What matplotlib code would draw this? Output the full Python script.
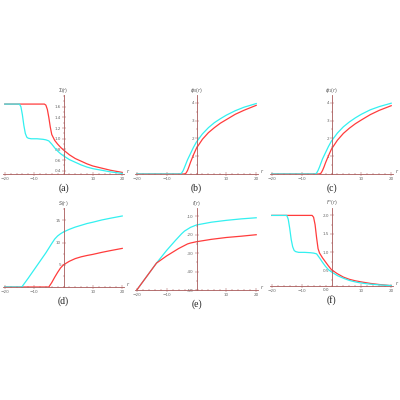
import numpy as np
import matplotlib
matplotlib.use("Agg")
import matplotlib.pyplot as plt
from matplotlib.ticker import MultipleLocator

# panel (a)
a_red_x = [-20, -6.5, -6, -5.5, -5, -4.5, -4, -3, -2, -1, 0, 2, 4, 6, 8, 10, 13, 16, 20]
a_red_y = [1.65, 1.65, 1.63, 1.55, 1.4, 1.22, 1.08, 0.97, 0.9, 0.84, 0.79, 0.7, 0.63, 0.58, 0.53, 0.49, 0.45, 0.41, 0.37]
a_cyan_x = [-20, -15, -14.5, -14, -13.5, -13, -12.5, -12, -11, -9, -7, -6, -5, -4, -3, -2, -1, 0, 2, 4, 6, 8, 10, 13, 16, 20]
a_cyan_y = [1.65, 1.65, 1.6, 1.45, 1.25, 1.1, 1.03, 1.01, 1.0, 1.0, 0.99, 0.98, 0.96, 0.9, 0.83, 0.77, 0.72, 0.68, 0.61, 0.56, 0.51, 0.47, 0.44, 0.41, 0.38, 0.35]

# panel (b)
b_cyan_x = [-20, -5.5, -5, -4.5, -4, -3, -2, -1, 0, 2, 4, 6, 8, 10, 13, 16, 20]
b_cyan_y = [0, 0, 0.05, 0.18, 0.38, 0.8, 1.15, 1.5, 1.8, 2.25, 2.6, 2.88, 3.1, 3.3, 3.55, 3.75, 3.95]
b_red_x = [-20, -4, -3.5, -3, -2.5, -2, -1, 0, 2, 4, 6, 8, 10, 13, 16, 20]
b_red_y = [0, 0, 0.05, 0.2, 0.42, 0.66, 1.08, 1.45, 1.95, 2.32, 2.6, 2.85, 3.05, 3.35, 3.58, 3.85]

# panel (c)
c_cyan_x = [-20, -5.5, -5, -4.5, -4, -3, -2, -1, 0, 2, 4, 6, 8, 10, 13, 16, 20]
c_cyan_y = [0, 0, 0.05, 0.2, 0.4, 0.85, 1.2, 1.55, 1.85, 2.3, 2.65, 2.92, 3.15, 3.35, 3.6, 3.78, 3.97]
c_red_x = [-20, -4, -3.5, -3, -2.5, -2, -1, 0, 2, 4, 6, 8, 10, 13, 16, 20]
c_red_y = [0, 0, 0.05, 0.2, 0.4, 0.63, 1.03, 1.4, 1.9, 2.28, 2.57, 2.82, 3.03, 3.33, 3.57, 3.83]

# panel (d)
d_cyan_x = [-20, -14.2, -12, -10, -8, -6, -4, -3, -2, -1, 0, 2, 4, 6, 8, 10, 13, 16, 20]
d_cyan_y = [0, 0, 2.0, 3.9, 5.8, 7.7, 9.8, 10.8, 11.5, 12.0, 12.4, 13.0, 13.5, 13.9, 14.3, 14.6, 15.1, 15.5, 16.0]
d_red_x = [-20, -5, -4, -3, -2, -1, 0, 2, 4, 6, 8, 10, 13, 16, 20]
d_red_y = [0, 0, 1.0, 2.2, 3.3, 4.3, 5.0, 5.8, 6.4, 6.8, 7.1, 7.35, 7.8, 8.2, 8.7]

# panel (e)
e_red_x = [-20, -13.4, -10, -6, -3, -2, 0, 5, 10, 15, 20]
e_red_y = [-50, -35.4, -31.5, -27.5, -25, -24.5, -23.8, -22.5, -21.5, -20.8, -20]
e_cyan_x = [-20, -13.4, -10, -7, -5, -4, -2, 0, 5, 10, 15, 20]
e_cyan_y = [-50, -35.4, -28.5, -23, -19.5, -18, -16, -14.7, -13.2, -12.2, -11.4, -10.8]

# panel (f)
f_red_x = [-20, -6.5, -6, -5.5, -5, -4.5, -4, -3, -2, -1, 0, 2, 4, 6, 8, 10, 13, 16, 20]
f_red_y = [2.0, 2.0, 1.95, 1.75, 1.4, 1.1, 0.98, 0.85, 0.74, 0.63, 0.53, 0.42, 0.33, 0.27, 0.23, 0.2, 0.16, 0.13, 0.1]
f_cyan_x = [-20, -15, -14.5, -14, -13.5, -13, -12.5, -12, -11, -9, -7, -6, -5, -4, -3, -2, -1, 0, 2, 4, 6, 8, 10, 13, 16, 20]
f_cyan_y = [2.0, 2.0, 1.9, 1.65, 1.35, 1.15, 1.05, 1.02, 1.0, 1.0, 0.99, 0.98, 0.96, 0.85, 0.73, 0.62, 0.53, 0.47, 0.37, 0.3, 0.24, 0.2, 0.17, 0.14, 0.12, 0.1]

AXC = '#a85a5a'
RED = '#ff3c3c'
CYAN = '#33f0f0'
W = H = 400


def panel(left, right, top, bottom, ylim, yticks, ylabel, caption,
          red, cyan, ymajor, yminor, cyan_first=False):
    ax = fig.add_axes([left / W, 1 - bottom / H, (right - left) / W, (bottom - top) / H])
    if cyan_first:
        ax.plot(*cyan, color=CYAN, lw=0.9)
        ax.plot(*red, color=RED, lw=0.9)
    else:
        ax.plot(*red, color=RED, lw=0.9)
        ax.plot(*cyan, color=CYAN, lw=0.9)
    ax.set_xlim(-20.6, 20.6)
    ax.set_ylim(*ylim)
    for s in ['top', 'right']:
        ax.spines[s].set_visible(False)
    ax.spines['left'].set_position(('data', 0))
    for s in ['left', 'bottom']:
        ax.spines[s].set_color(AXC)
        ax.spines[s].set_linewidth(0.6)
    ax.set_xticks([-20, -10, 10, 20])
    ax.xaxis.set_minor_locator(MultipleLocator(2))
    ax.set_yticks(yticks)
    ax.yaxis.set_minor_locator(MultipleLocator(yminor))
    ax.set_yticklabels(ymajor)
    ax.tick_params(which='both', direction='inout', colors=AXC, labelcolor='#666666',
                   labelsize=3, width=0.35, pad=0.8)
    ax.tick_params(which='major', length=2.2)
    ax.tick_params(which='minor', length=1.0)
    ax.set_facecolor('none')
    ax.text(0, 1.0, ylabel, transform=ax.get_xaxis_transform(), ha='center', va='bottom',
            fontsize=3.5, color='#555555')
    ax.text(21.5, ylim[0], 'r', ha='left', va='bottom', fontsize=3.5, color='#555555', style='italic')
    ax.annotate(caption, xy=(0, 0), xycoords=ax.get_xaxis_transform(),
                xytext=(0, -10), textcoords='offset points', ha='center', va='center',
                fontsize=7, color='#222222', family='Liberation Serif')
    return ax


fig = plt.figure(figsize=(4, 4), dpi=100)

panel(3, 124, 95, 174, (0.34, 1.82), [0.4, 0.6, 0.8, 1.0, 1.2, 1.4, 1.6], '$\\Sigma(r)$', '(a)',
      (a_red_x, a_red_y), (a_cyan_x, a_cyan_y),
      ['0.4', '0.6', '0.8', '1.0', '1.2', '1.4', '1.6'], 0.1)
panel(135, 258, 95, 174, (0, 4.43), [1, 2, 3, 4], '$\\phi_0(r)$', '(b)',
      (b_red_x, b_red_y), (b_cyan_x, b_cyan_y), ['1', '2', '3', '4'], 0.5)
panel(270, 393, 95, 174, (0, 4.43), [1, 2, 3, 4], '$\\phi_1(r)$', '(c)',
      (c_red_x, c_red_y), (c_cyan_x, c_cyan_y), ['1', '2', '3', '4'], 0.5)
panel(3, 124, 208, 287, (0, 17.8), [5, 10, 15], '$S(r)$', '(d)',
      (d_red_x, d_red_y), (d_cyan_x, d_cyan_y), ['5', '10', '15'], 2.5)
panel(135, 258, 208, 290, (-50, -5.5), [-50, -40, -30, -20, -10], '$f(r)$', '(e)',
      (e_red_x, e_red_y), (e_cyan_x, e_cyan_y), ['-50', '-40', '-30', '-20', '-10'], 5,
      cyan_first=True)
ax_f = panel(270, 393, 208, 286, (0.09, 2.2), [0.5, 1.0, 1.5, 2.0], "$F'(r)$", '(f)',
             (f_red_x, f_red_y), (f_cyan_x, f_cyan_y), ['0.5', '1.0', '1.5', '2.0'], 0.25)
ax_f.text(-0.8, 0.04, '0.0', ha='right', va='top', fontsize=3, color='#555555')

fig.savefig('out.png', dpi=100)
